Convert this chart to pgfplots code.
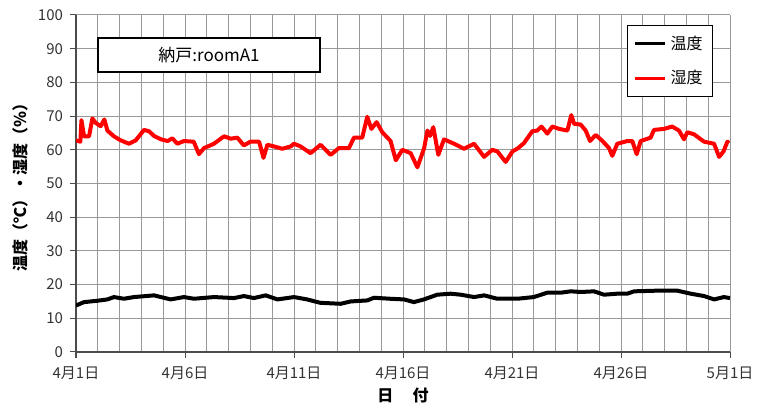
\documentclass[border=0pt]{standalone}
\usepackage{pgfplots}
\pgfplotsset{compat=1.18}
\usepackage{fontspec}
\setmainfont{Noto Sans CJK JP}
\begin{document}
\begin{tikzpicture}
\path[use as bounding box] (0,0) rectangle (380pt,205pt);
\begin{axis}[
  at={(38pt,29pt)}, anchor=south west,
  scale only axis, width=327pt, height=168.5pt,
  xmin=0, xmax=30, ymin=0, ymax=100,
  axis lines*=left, axis line style={-, draw=black!70, line width=0.6pt},
  xtick={0,5,...,30},
  xticklabels={4月1日,4月6日,4月11日,4月16日,4月21日,4月26日,5月1日},
  minor xtick={0,1,...,30},
  ytick={0,10,...,100},
  xmajorgrids, xminorgrids, ymajorgrids,
  grid style={draw=black!40, line width=0.5pt},
  minor grid style={draw=black!40, line width=0.5pt},
  tick align=outside, tick pos=left,
  major tick length=3pt, minor tick length=0pt,
  tick style={draw=black!70, line width=0.5pt},
  /pgf/number format/assume math mode=true,
  tick label style={font=\fontsize{7.5}{9}\selectfont, text=black!80},
  xticklabel style={yshift=-1pt},
  ylabel={\bfseries 温度（℃）・湿度（％）},
  ylabel style={at={(axis description cs:-0.0856,0.5)}, anchor=center, font=\fontsize{8}{9}\selectfont},
  xlabel={\bfseries 日\hspace{1.2em}付},
  xlabel style={at={(axis description cs:0.5,-0.128)}, anchor=center, font=\fontsize{8}{9}\selectfont},
  legend style={at={(axis description cs:0.974,0.97)}, anchor=north east,
    draw=black, line width=0.5pt, fill=white, font=\fontsize{8}{9}\selectfont,
    inner xsep=3pt, inner ysep=3pt, row sep=5pt, cells={anchor=west}},
  legend image code/.code={\draw[#1, line width=1.6pt] (0pt,0pt) -- (15pt,0pt);},
  legend cell align=left,
]
\addplot[black, line width=2pt, line join=round] coordinates {
(0,13.8)(0.37,14.8)(0.98,15.2)(1.44,15.6)(1.74,16.3)(2.2,15.8)(2.66,16.3)(3.58,16.8)
(4.34,15.6)(4.95,16.3)(5.41,15.8)(6.33,16.3)(7.25,16)(7.7,16.6)(8.16,16)(8.7,16.8)
(9.24,15.6)(10.0,16.3)(10.6,15.6)(11.2,14.6)(12.14,14.3)(12.6,15)(13.36,15.3)(13.67,16.1)
(14.4,15.8)(15.05,15.6)(15.5,14.8)(15.96,15.6)(16.57,17)(17.19,17.3)(17.65,17)(18.26,16.3)
(18.72,16.8)(19.33,15.8)(20.25,15.8)(21.0,16.3)(21.62,17.6)(22.24,17.6)(22.7,18)(23.15,17.8)
(23.76,18)(24.22,17)(24.83,17.3)(25.29,17.3)(25.6,18)(26.67,18.2)(27.58,18.2)(28.2,17.3)
(28.81,16.6)(29.27,15.6)(29.72,16.3)(30.0,16)
};
\addlegendentry{温度}
\addplot[red, line width=2pt, line join=round] coordinates {
(0,62.8)(0.2,62.4)(0.25,68.8)(0.37,64)(0.6,64)(0.75,69.3)(0.9,68)(1.13,67)(1.3,69)
(1.44,65.7)(1.74,64)(2.05,62.8)(2.43,61.8)(2.74,62.8)(3.12,65.9)(3.35,65.5)(3.58,64.1)
(3.9,63.1)(4.2,62.6)(4.42,63.4)(4.65,61.8)(4.95,62.6)(5.4,62.4)(5.64,58.7)(5.87,60.5)
(6.33,61.8)(6.79,64)(7.1,63.3)(7.4,63.6)(7.7,61.3)(8.0,62.4)(8.4,62.4)(8.6,57.6)
(8.78,61.5)(9.08,61)(9.46,60.3)(9.85,61)(10.0,61.8)(10.3,61)(10.76,59)(11.22,61.5)
(11.68,58.5)(12.06,60.5)(12.52,60.5)(12.75,63.6)(13.13,63.6)(13.36,69.8)(13.55,66.2)
(13.79,68.2)(14.05,65.2)(14.43,62.6)(14.67,56.9)(14.97,60)(15.35,59)(15.66,54.8)
(15.97,60.5)(16.12,65.7)(16.24,64.1)(16.39,66.7)(16.62,58.5)(16.88,63.1)(17.34,61.8)
(17.8,60.3)(18.26,61.8)(18.72,57.9)(19.1,60)(19.33,59.5)(19.71,56.4)(20.02,59.5)
(20.28,60.5)(20.55,62)(20.93,65.5)(21.16,65.7)(21.35,66.9)(21.62,64.8)(21.85,66.9)
(22.16,66.2)(22.54,65.7)(22.72,70.3)(22.85,67.7)(23.15,67.5)(23.38,65.7)(23.58,62.6)
(23.84,64.4)(24.15,62.6)(24.45,60.5)(24.6,58.2)(24.83,61.8)(25.29,62.6)(25.52,62.6)
(25.72,58.7)(25.9,62.6)(26.36,63.6)(26.51,65.9)(26.97,66.2)(27.35,66.9)(27.66,65.7)
(27.89,63.1)(28.04,65.2)(28.35,64.6)(28.81,62.4)(29.27,61.8)(29.5,57.9)(29.7,59.5)
(29.88,62.4)(29.96,62)
};
\addlegendentry{湿度}
\node[draw=black, line width=0.6pt, fill=white, minimum width=111pt, minimum height=17pt,
  inner sep=0pt, font=\fontsize{8.5}{10}\selectfont] at (axis cs:6.1,88.1) {納戸:roomA1};
\end{axis}
\end{tikzpicture}
\end{document}
